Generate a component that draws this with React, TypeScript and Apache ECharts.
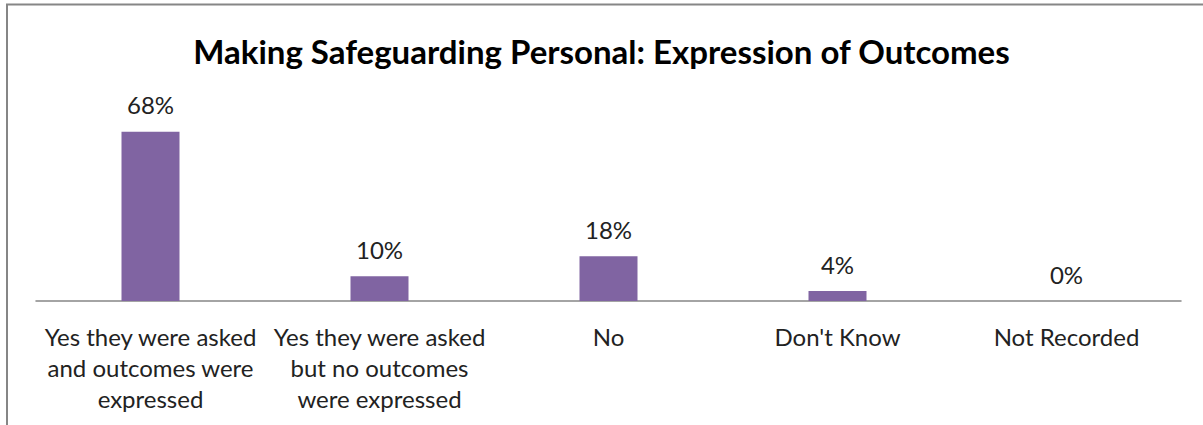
import React, { useEffect, useRef } from "react";
import * as echarts from "echarts";

const TITLE = "Making Safeguarding Personal: Expression of Outcomes";
const categories = [
  "Yes they were asked\nand outcomes were\nexpressed",
  "Yes they were asked\nbut no outcomes\nwere expressed",
  "No",
  "Don't Know",
  "Not Recorded",
];
const values = [68, 10, 18, 4, 0];
const yMin = 0;
const yMax = 80;

const FONT = "Lato, 'Open Sans', sans-serif";

export default function App() {
  const ref = useRef<HTMLDivElement>(null);
  useEffect(() => {
    if (!ref.current) return;
    const chart = echarts.init(ref.current, undefined, { renderer: "svg" });
    chart.setOption({
      animation: false,
      backgroundColor: "#ffffff",
      title: {
        text: TITLE,
        left: "center",
        top: 29,
        textStyle: { fontFamily: FONT, fontSize: 33, fontWeight: "bold", color: "#000000" },
      },
      grid: { left: 36, right: 22, top: 102, bottom: 124, containLabel: false },
      xAxis: {
        type: "category",
        data: categories,
        axisLine: { show: true, lineStyle: { color: "#868686", width: 1.5 } },
        axisTick: { show: false },
        splitLine: { show: false },
        axisLabel: {
          interval: 0,
          fontFamily: FONT,
          fontSize: 24,
          lineHeight: 31,
          margin: 20,
          color: "#222222",
          align: "center",
        },
      },
      yAxis: { type: "value", min: yMin, max: yMax, show: false },
      series: [
        {
          type: "bar",
          data: values,
          barWidth: 58,
          itemStyle: { color: "#8064A2" },
          label: {
            show: true,
            position: "top",
            distance: 15,
            formatter: "{c}%",
            fontFamily: FONT,
            fontSize: 24,
            color: "#222222",
          },
        },
      ],
      graphic: [
        {
          type: "rect",
          shape: { x: 7, y: 4.5, width: 1400, height: 700 },
          style: { fill: "none", stroke: "#868686", lineWidth: 2 },
          silent: true,
        },
      ],
    });
    return () => chart.dispose();
  }, []);
  return (
    <div
      ref={ref}
      style={{ position: "absolute", left: 0, top: 0, width: 1203, height: 425, background: "#fff" }}
    />
  );
}
